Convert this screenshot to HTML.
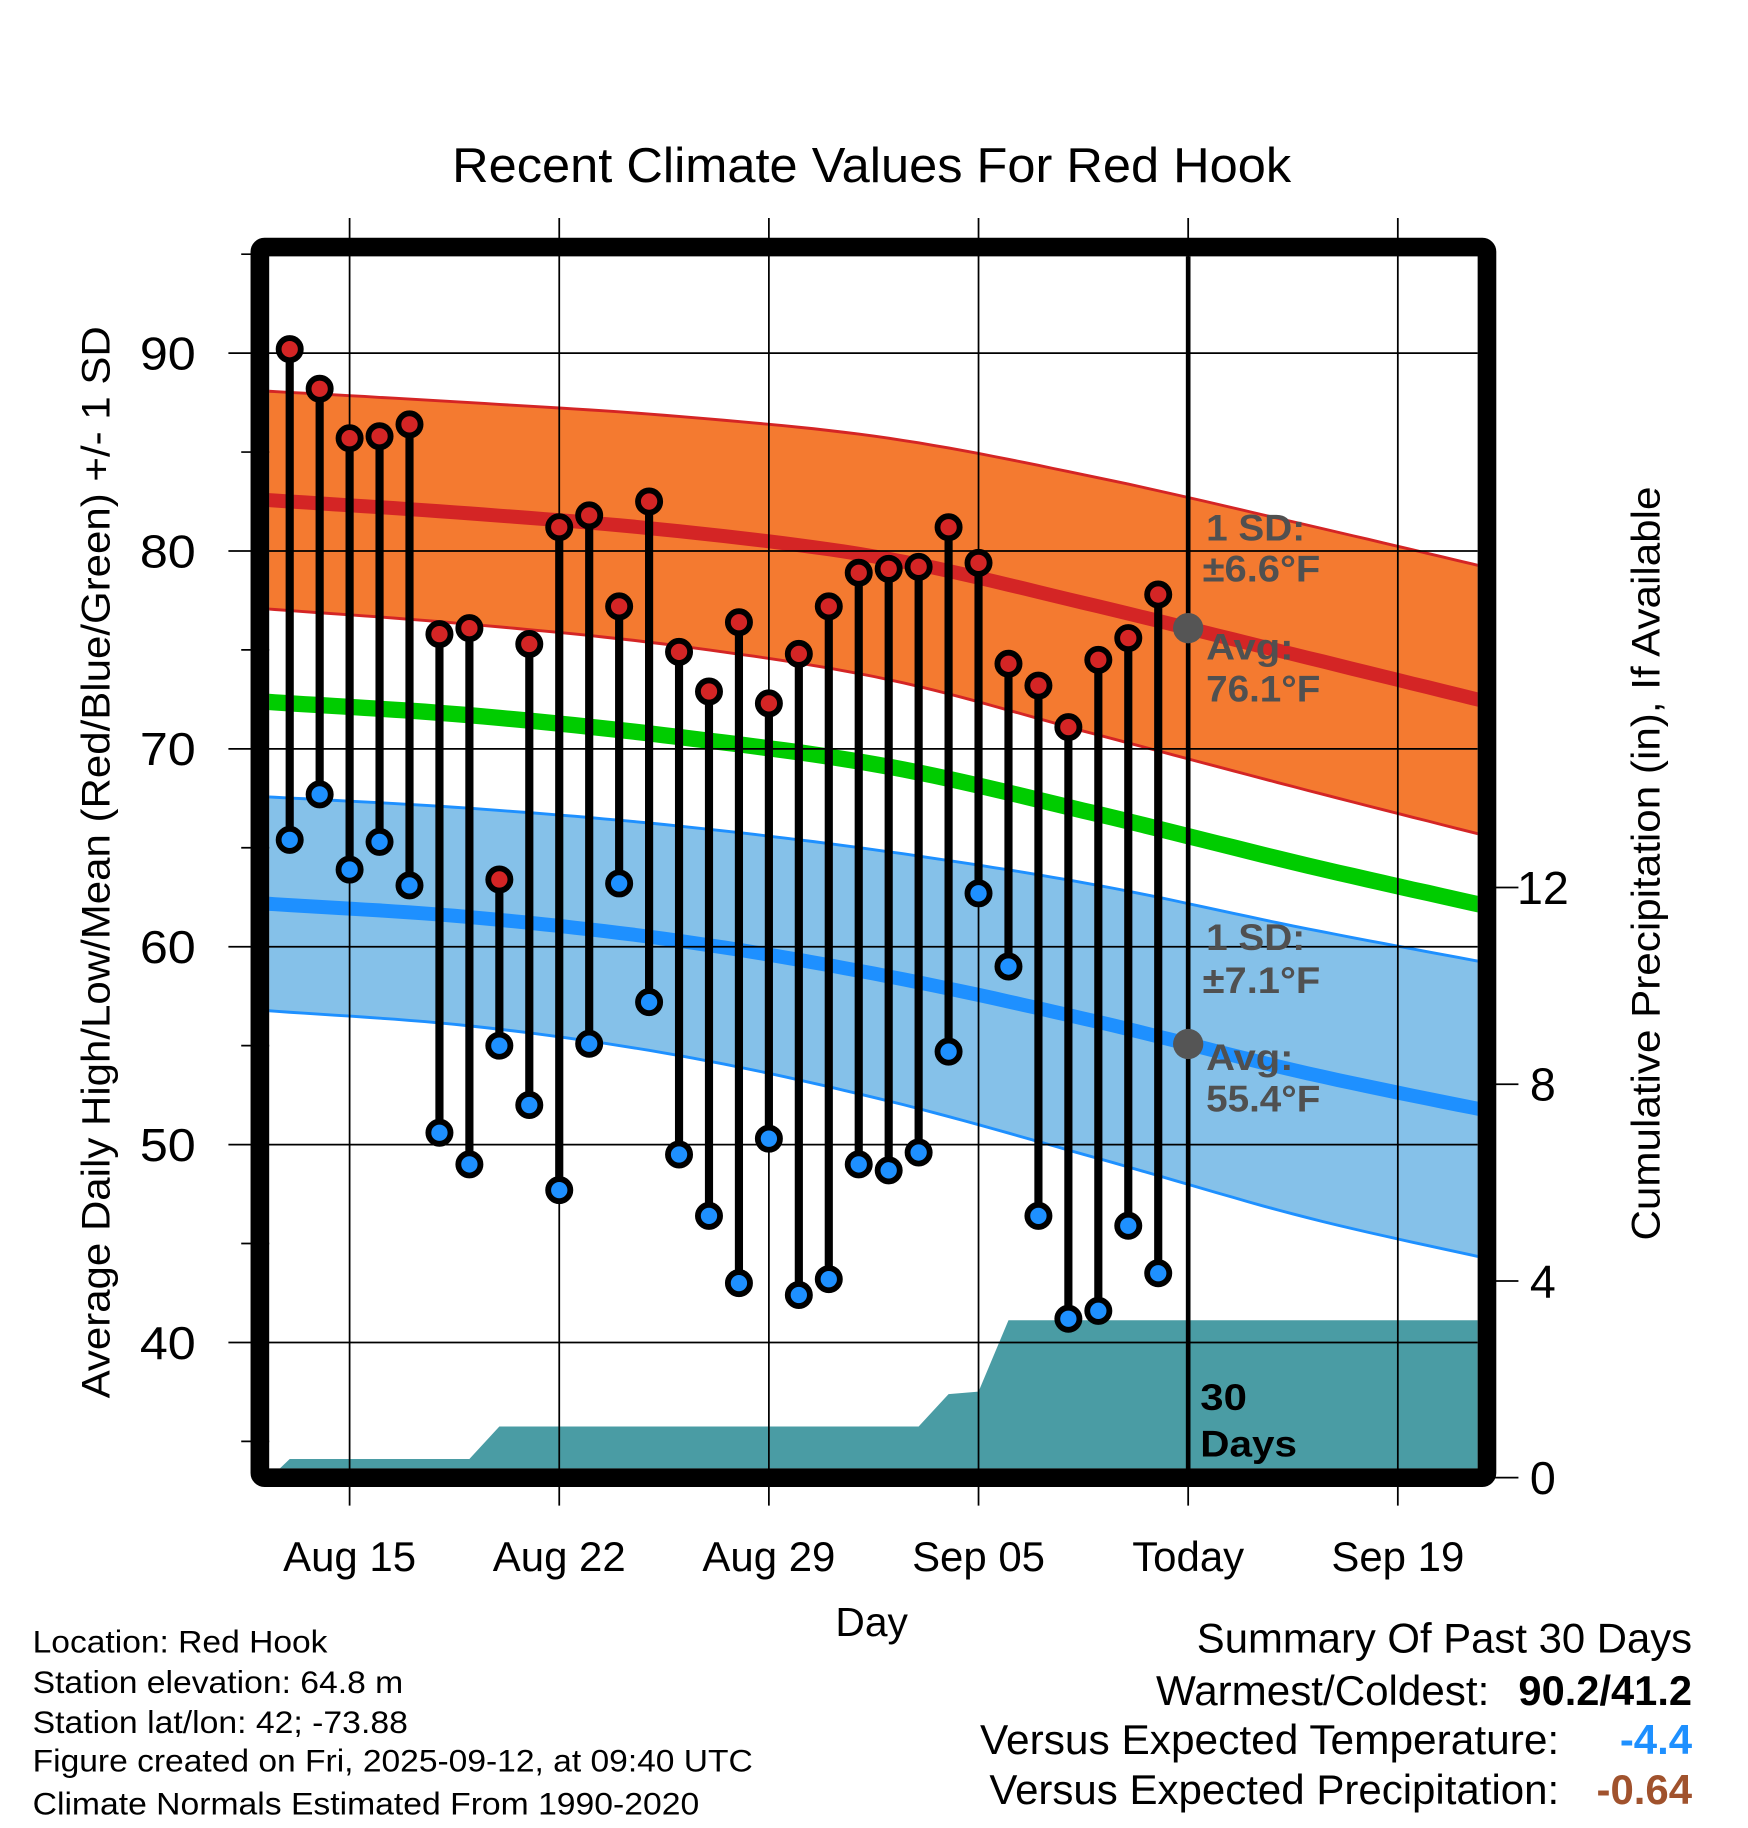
<!DOCTYPE html>
<html><head><meta charset="utf-8"><style>
html,body{margin:0;padding:0;background:#fff}
svg{display:block}
text{font-family:"Liberation Sans",Arial,sans-serif}
</style></head><body>
<svg id="chart" width="1748" height="1828" viewBox="0 0 1500 1568.6" xmlns="http://www.w3.org/2000/svg">
<defs><clipPath id="plotclip"><rect x="231" y="220" width="1037" height="1040"/></clipPath></defs>
<text x="388" y="156" font-size="42" textLength="720" lengthAdjust="spacingAndGlyphs">Recent Climate Values For Red Hook</text>
<g id="plot" clip-path="url(#plotclip)"></g>
<g id="over"></g>
</svg>
<script>
// ---- data ----
const obsDays = [1,2,3,4,5,6,7,8,9,10,11,12,13,14,15,16,17,18,19,20,21,22,23,24,25,26,27,28,29,30]; // day index from Aug 12
const highs = [90.2,88.2,85.7,85.8,86.4,75.8,76.1,63.4,75.3,81.2,81.8,77.2,82.5,74.9,72.9,76.4,72.3,74.8,77.2,78.9,79.1,79.2,81.2,79.4,74.3,73.2,71.1,74.5,75.6,77.8];
const lows = [65.4,67.7,63.9,65.3,63.1,50.6,49.0,55.0,52.0,47.7,55.1,63.2,57.2,49.5,46.4,43.0,50.3,42.4,43.2,49.0,48.7,49.6,54.7,62.7,59.0,46.4,41.2,41.6,45.9,43.5];
const precip = [0.38,0.38,0.38,0.38,0.38,0.38,0.38,1.04,1.04,1.04,1.04,1.04,1.04,1.04,1.04,1.04,1.04,1.04,1.04,1.04,1.04,1.04,1.7,1.75,3.2,3.2,3.2,3.2,3.2,3.2];
const normDays = [0,7,14,21,28,35,42];
const highAvg = [82.6,81.9,81.0,79.6,77.2,74.6,72.0];
const highSD = [5.5,5.6,5.8,6.1,6.5,6.7,6.8];
const lowAvg = [62.2,61.5,60.3,58.5,56.2,53.6,51.4];
const lowSD = [5.4,5.5,5.8,6.3,6.9,7.3,7.5];
const meanT = [72.4,71.7,70.6,69.1,66.7,64.1,61.7];
const xTickDays = [3,10,17,24,31,38];
const xTickLabels = ["Aug 15","Aug 22","Aug 29","Sep 05","Today","Sep 19"];
const yTicks = [40,50,60,70,80,90];
const y2Ticks = [0,4,8,12];
const todayDay = 31;
// ---- scales ----
const X = d => 300 + (d-3)*25.7;
const Y = v => 303 + (90-v)*16.98;
const Y2 = p => 1268 - p*42.2;
const NS = "http://www.w3.org/2000/svg";
const plot = document.getElementById('plot'), over = document.getElementById('over');
function mk(parent, tag, attrs){const e=document.createElementNS(NS,tag);for(const k in attrs)e.setAttribute(k,attrs[k]);parent.appendChild(e);return e;}
function interp(arr,d){
  const n=normDays.length;
  let i=0; while(i<n-2 && d>normDays[i+1]) i++;
  const t=(d-normDays[i])/(normDays[i+1]-normDays[i]);
  const p0=arr[Math.max(i-1,0)], p1=arr[i], p2=arr[i+1], p3=arr[Math.min(i+2,n-1)];
  const m1=(i===0)?(p2-p1):(p2-p0)/2, m2=(i+2>n-1)?(p2-p1):(p3-p1)/2;
  const t2=t*t,t3=t2*t;
  return (2*t3-3*t2+1)*p1+(t3-2*t2+t)*m1+(-2*t3+3*t2)*p2+(t3-t2)*m2;
}
function linePts(fn){const p=[];for(let d=0;d<=42;d+=0.5)p.push(X(d).toFixed(1)+','+Y(fn(d)).toFixed(1));return p;}
function band(avg,sd,fill,edge,name){
  const up=linePts(d=>interp(avg,d)+interp(sd,d)), lo=linePts(d=>interp(avg,d)-interp(sd,d));
  const b=mk(plot,'polygon',{points:up.concat(lo.slice().reverse()).join(' '),fill:fill});
  
  
  const e1=mk(plot,'polyline',{points:up.join(' '),fill:'none',stroke:edge,'stroke-width':2.5});
  
  
  const e2=mk(plot,'polyline',{points:lo.join(' '),fill:'none',stroke:edge,'stroke-width':2.5});
  
  
}
band(highAvg,highSD,'#f47a30','#d42525','high');
band(lowAvg,lowSD,'#85c1e9','#1e90ff','low');
let l;
l=mk(plot,'polyline',{points:linePts(d=>interp(highAvg,d)).join(' '),fill:'none',stroke:'#d42525','stroke-width':12});


l=mk(plot,'polyline',{points:linePts(d=>interp(lowAvg,d)).join(' '),fill:'none',stroke:'#1e90ff','stroke-width':12});


l=mk(plot,'polyline',{points:linePts(d=>interp(meanT,d)).join(' '),fill:'none',stroke:'#00cc00','stroke-width':14});


// precip area
let pp=[X(0.35)+','+Y2(0)];
obsDays.forEach((d,i)=>pp.push(X(d)+','+Y2(precip[i])));
pp.push('1270,'+Y2(precip[precip.length-1]));pp.push('1270,'+Y2(0));
l=mk(plot,'polygon',{points:pp.join(' '),fill:'#4a9ca4'});


// gridlines
yTicks.forEach(v=>{const g=mk(over,'line',{x1:196,x2:1268,y1:Y(v),y2:Y(v),stroke:'#000','stroke-width':1.5});
  
  
  const t=mk(over,'text',{x:168,y:Y(v)+14,'font-size':40,'text-anchor':'end',textLength:48,lengthAdjust:'spacingAndGlyphs'});t.textContent=v;
  
  });
[35,45,55,65,75,85,95].forEach(v=>{const g=mk(over,'line',{x1:207,x2:231,y1:Y(v),y2:Y(v),stroke:'#000','stroke-width':1.5});
  
  });
xTickDays.forEach((d,i)=>{const g=mk(over,'line',{x1:X(d),x2:X(d),y1:187,y2:1292,stroke:'#000','stroke-width':1.5});
  
  
  const t=mk(over,'text',{x:X(d),y:1348,'font-size':36,'text-anchor':'middle'});t.textContent=xTickLabels[i];
  
  });
y2Ticks.forEach(p=>{const g=mk(over,'line',{x1:1283,x2:1303,y1:Y2(p),y2:Y2(p),stroke:'#000','stroke-width':1.5});
  
  
  const t=mk(over,'text',{x:1324,y:Y2(p)+14,'font-size':40,'text-anchor':'middle'});t.textContent=p;
  
  });
// today line
l=mk(over,'line',{x1:X(todayDay),x2:X(todayDay),y1:220,y2:1262,stroke:'#000','stroke-width':4});


// lollipops
obsDays.forEach((d,i)=>{const x=X(d);
  const s=mk(over,'line',{x1:x,x2:x,y1:Y(highs[i]),y2:Y(lows[i]),stroke:'#000','stroke-width':7});
  
  
  const h=mk(over,'circle',{cx:x,cy:Y(highs[i]),r:9.5,fill:'#d42525',stroke:'#000','stroke-width':5});
  
  
  const c=mk(over,'circle',{cx:x,cy:Y(lows[i]),r:9.5,fill:'#1e90ff',stroke:'#000','stroke-width':5});
  
  });
// today markers
l=mk(over,'circle',{cx:X(todayDay),cy:Y(interp(highAvg,todayDay)),r:13,fill:'#555'});


l=mk(over,'circle',{cx:X(todayDay),cy:Y(interp(lowAvg,todayDay)),r:13,fill:'#555'});


// frame
l=mk(over,'rect',{x:223,y:212,width:1053,height:1056,fill:'none',stroke:'#000','stroke-width':16,rx:4});


</script>
<svg style="position:absolute;left:0;top:0" width="1748" height="1828" viewBox="0 0 1500 1568.6" xmlns="http://www.w3.org/2000/svg">
<g font-family="Liberation Sans, Arial, sans-serif" font-weight="bold" font-size="32" fill="#505050" lengthAdjust="spacingAndGlyphs">
<text x="1035" y="464" textLength="85" lengthAdjust="spacingAndGlyphs">1 SD:</text>
<text x="1032" y="499" textLength="101" lengthAdjust="spacingAndGlyphs">±6.6°F</text>
<text x="1035" y="566" textLength="75" lengthAdjust="spacingAndGlyphs">Avg:</text>
<text x="1035" y="602" textLength="98" lengthAdjust="spacingAndGlyphs">76.1°F</text>
<text x="1035" y="815" textLength="85" lengthAdjust="spacingAndGlyphs">1 SD:</text>
<text x="1032" y="852" textLength="101" lengthAdjust="spacingAndGlyphs">±7.1°F</text>
<text x="1035" y="918" textLength="75" lengthAdjust="spacingAndGlyphs">Avg:</text>
<text x="1035" y="954" textLength="98" lengthAdjust="spacingAndGlyphs">55.4°F</text>
</g>
<g font-family="Liberation Sans, Arial, sans-serif" font-weight="bold" font-size="32" fill="#000">
<text x="1030" y="1210" textLength="40" lengthAdjust="spacingAndGlyphs">30</text>
<text x="1030" y="1250" textLength="83" lengthAdjust="spacingAndGlyphs">Days</text>
</g>
<g font-family="Liberation Sans, Arial, sans-serif">
<text transform="translate(94,740) rotate(-90)" font-size="34" text-anchor="middle" textLength="920" lengthAdjust="spacingAndGlyphs">Average Daily High/Low/Mean (Red/Blue/Green) +/- 1 SD</text>
<text transform="translate(1424,741) rotate(-90)" font-size="34" text-anchor="middle" textLength="647" lengthAdjust="spacingAndGlyphs">Cumulative Precipitation (in), If Available</text>
<text x="748" y="1404" font-size="35" text-anchor="middle">Day</text>
<g font-size="27">
<text x="28" y="1418" textLength="253" lengthAdjust="spacingAndGlyphs">Location: Red Hook</text>
<text x="28" y="1453" textLength="318" lengthAdjust="spacingAndGlyphs">Station elevation: 64.8 m</text>
<text x="28" y="1487" textLength="322" lengthAdjust="spacingAndGlyphs">Station lat/lon: 42; -73.88</text>
<text x="28" y="1520" textLength="618" lengthAdjust="spacingAndGlyphs">Figure created on Fri, 2025-09-12, at 09:40 UTC</text>
<text x="28" y="1557" textLength="572" lengthAdjust="spacingAndGlyphs">Climate Normals Estimated From 1990-2020</text>
</g>
<g font-size="36">
<text x="1027" y="1418" textLength="425" lengthAdjust="spacingAndGlyphs">Summary Of Past 30 Days</text>
<text x="992" y="1463" textLength="286" lengthAdjust="spacingAndGlyphs">Warmest/Coldest:</text>
<text x="1303" y="1463" font-weight="bold" textLength="149" lengthAdjust="spacingAndGlyphs">90.2/41.2</text>
<text x="841" y="1505" textLength="497" lengthAdjust="spacingAndGlyphs">Versus Expected Temperature:</text>
<text x="1390" y="1505" font-weight="bold" fill="#1e90ff" textLength="62" lengthAdjust="spacingAndGlyphs">-4.4</text>
<text x="849" y="1548" textLength="489" lengthAdjust="spacingAndGlyphs">Versus Expected Precipitation:</text>
<text x="1370" y="1548" font-weight="bold" fill="#a0522d" textLength="82" lengthAdjust="spacingAndGlyphs">-0.64</text>
</g>
</g>
</svg>
</body></html>
